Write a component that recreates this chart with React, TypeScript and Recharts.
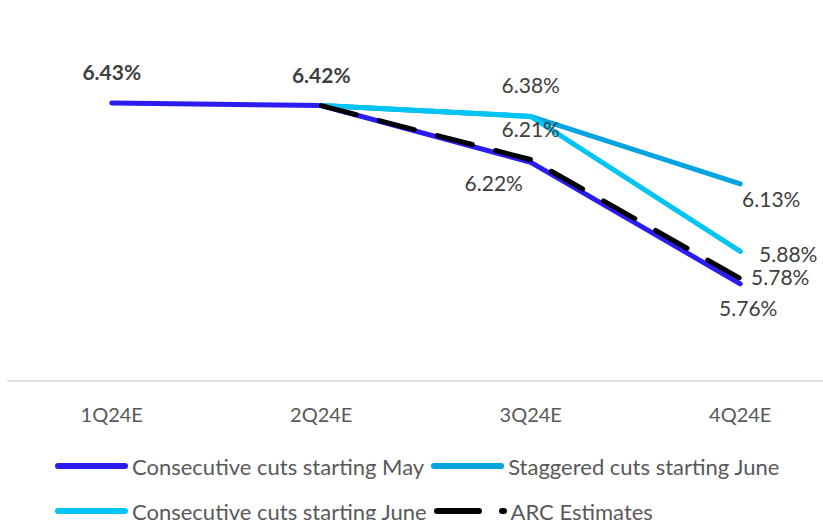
import React from "react";
import { LineChart, Line, XAxis, YAxis, LabelList } from "recharts";

const quarters = ["1Q24E", "2Q24E", "3Q24E", "4Q24E"];
const cutsMay = [6.43, 6.42, 6.21, 5.76];
const staggeredJune = [null, 6.42, 6.38, 6.13];
const cutsJune = [null, 6.42, 6.38, 5.88];
const arcEstimates = [null, 6.42, 6.22, 5.78];

const COLORS = {
  may: "#2B1CF2",
  staggered: "#04A3E2",
  june: "#00C4F4",
  arc: "#000000",
  label: "#404040",
  tick: "#595959",
  axis: "#D9D9D9",
};

const FONT = "Lato, 'Open Sans', sans-serif";

const data = quarters.map((q, i) => ({
  quarter: q,
  may: cutsMay[i],
  staggered: staggeredJune[i],
  june: cutsJune[i],
  arc: arcEstimates[i],
}));

// label offsets from each point, per series (index -> [dx, dy, bold])
const LABEL_POS: Record<string, Record<number, [number, number, boolean?]>> = {
  may: { 0: [0, -31, true], 1: [0, -31, true], 2: [0, -34], 3: [8, 24] },
  staggered: { 2: [0, -32], 3: [31, 15] },
  june: { 3: [48, 2] },
  arc: { 2: [-37, 23], 3: [40, -2] },
};

function makeLabel(key: string) {
  return (props: any) => {
    const { x, y, value, index } = props;
    const pos = LABEL_POS[key][index];
    if (value == null || !pos) return null;
    return (
      <text
        x={x + pos[0]}
        y={y + pos[1]}
        textAnchor="middle"
        dominantBaseline="central"
        fill={COLORS.label}
        fontSize={21}
        fontFamily={FONT}
        fontWeight={pos[2] ? 700 : 400}
      >
        {`${Number(value).toFixed(2)}%`}
      </text>
    );
  };
}

const legendRows = [
  [
    { name: "Consecutive cuts starting May", color: COLORS.may, dash: false },
    { name: "Staggered cuts starting June", color: COLORS.staggered, dash: false },
  ],
  [
    { name: "Consecutive cuts starting June", color: COLORS.june, dash: false },
    { name: "ARC Estimates", color: COLORS.arc, dash: true },
  ],
];

function LegendBox() {
  return (
    <div style={{ position: "absolute", left: 54, top: 452, fontFamily: FONT }}>
      {legendRows.map((row, r) => (
        <div key={r} style={{ display: "flex", alignItems: "center", height: 28, marginBottom: 17 }}>
          {row.map((it) => (
            <div key={it.name} style={{ display: "flex", alignItems: "center", marginRight: 6 }}>
              <svg width={75} height={10}>
                <line
                  x1={4}
                  y1={5}
                  x2={71}
                  y2={5}
                  stroke={it.color}
                  strokeWidth={6}
                  strokeLinecap="round"
                  strokeDasharray={it.dash ? "42 23" : undefined}
                />
              </svg>
              <span style={{ fontSize: 22, color: COLORS.tick, marginLeft: 3, whiteSpace: "nowrap" }}>
                {it.name}
              </span>
            </div>
          ))}
        </div>
      ))}
    </div>
  );
}

export default function App() {
  return (
    <div
      style={{
        position: "absolute",
        left: 0,
        top: 0,
        width: 823,
        height: 520,
        overflow: "hidden",
        background: "#fff",
      }}
    >
      <LineChart
        width={850}
        height={520}
        data={data}
        margin={{ top: 57, right: 5, bottom: 109, left: 7 }}
      >
        <XAxis
          dataKey="quarter"
          scale="band"
          height={30}
          tickLine={false}
          axisLine={{ stroke: COLORS.axis, strokeWidth: 1.5 }}
          tickMargin={21}
          tick={{ fill: COLORS.tick, fontSize: 20, fontFamily: FONT }}
        />
        <YAxis hide domain={[5.4, 6.6]} />
        <Line
          dataKey="may"
          stroke={COLORS.may}
          strokeWidth={5}
          strokeLinecap="round"
          dot={false}
          isAnimationActive={false}
        >
          <LabelList dataKey="may" content={makeLabel("may")} />
        </Line>
        <Line
          dataKey="staggered"
          stroke={COLORS.staggered}
          strokeWidth={5}
          strokeLinecap="round"
          dot={false}
          isAnimationActive={false}
        >
          <LabelList dataKey="staggered" content={makeLabel("staggered")} />
        </Line>
        <Line
          dataKey="june"
          stroke={COLORS.june}
          strokeWidth={5}
          strokeLinecap="round"
          dot={false}
          isAnimationActive={false}
        >
          <LabelList dataKey="june" content={makeLabel("june")} />
        </Line>
        <Line
          dataKey="arc"
          stroke={COLORS.arc}
          strokeWidth={5}
          strokeLinecap="round"
          strokeDasharray="36 24"
          dot={false}
          isAnimationActive={false}
        >
          <LabelList dataKey="arc" content={makeLabel("arc")} />
        </Line>
      </LineChart>
      <LegendBox />
    </div>
  );
}
